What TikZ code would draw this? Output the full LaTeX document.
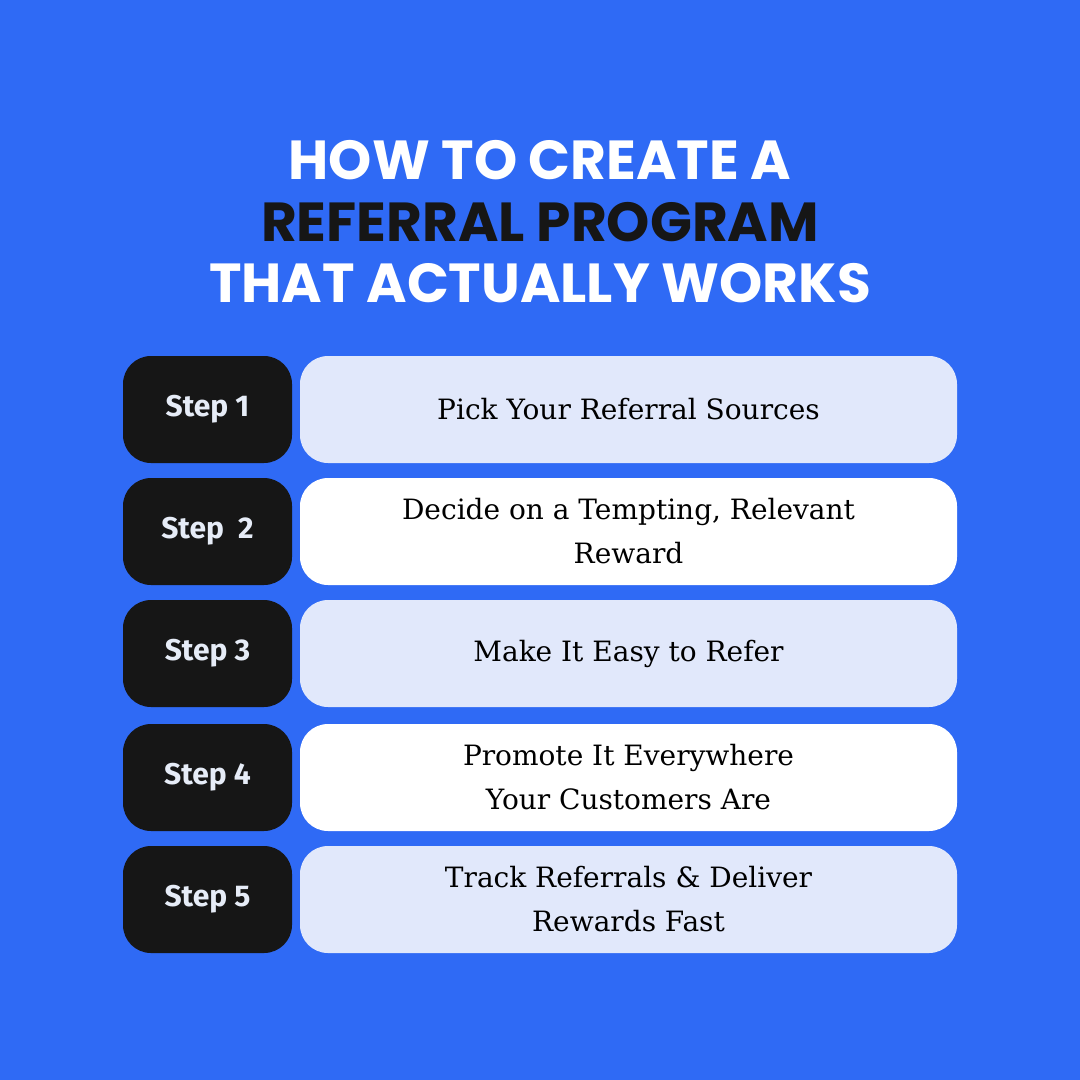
\documentclass[tikz,border=0pt]{standalone}
\usepackage{fontspec}
\setmainfont{DejaVu Serif}
\newfontfamily\titlefont{Poppins}
\newfontfamily\stepfont{Fira Sans}
\definecolor{bg}{HTML}{2F6AF5}
\definecolor{dark}{HTML}{161616}
\definecolor{lightb}{HTML}{E1E8FB}
\definecolor{steptxt}{HTML}{E6ECF7}
\tikzset{
 stepbox/.style={fill=dark,rounded corners=28pt,minimum width=169pt,minimum height=107pt,text=steptxt,font=\stepfont\bfseries\fontsize{30}{36}\selectfont},
 descbox/.style={rounded corners=28pt,minimum width=657pt,minimum height=107pt,text=black,align=center,font=\fontsize{28}{44}\selectfont},
 ttl/.style={font=\titlefont\bfseries\fontsize{55}{60}\selectfont}
}
\begin{document}
\begin{tikzpicture}[x=1pt,y=-1pt]
\fill[bg] (0,0) rectangle (1080,1080);
\useasboundingbox (0,0) rectangle (1080,1080);
\node[ttl,text=white] (t1) at (540,160) {HOW TO CREATE A};
\node[ttl,text=dark] (t2) at (540,222) {REFERRAL PROGRAM};
\node[ttl,text=white] (t3) at (540,283) {THAT ACTUALLY WORKS};
\foreach \i/\y/\c/\s/\d in {1/409.5/lightb/Step 1/Pick Your Referral Sources,
 2/531.5/white/Step\ \ 2/{Decide on a Tempting, Relevant\\Reward},
 3/653.5/lightb/Step 3/Make It Easy to Refer,
 4/777.5/white/Step 4/{Promote It Everywhere\\ Your Customers Are},
 5/899.5/lightb/Step 5/{Track Referrals \& Deliver\\ Rewards Fast}}{
 \node[stepbox] (s\i) at (207.5,\y) {\s};
 \node[descbox,fill=\c] (d\i) at (628.5,\y) {\d};
}
\end{tikzpicture}
\end{document}
